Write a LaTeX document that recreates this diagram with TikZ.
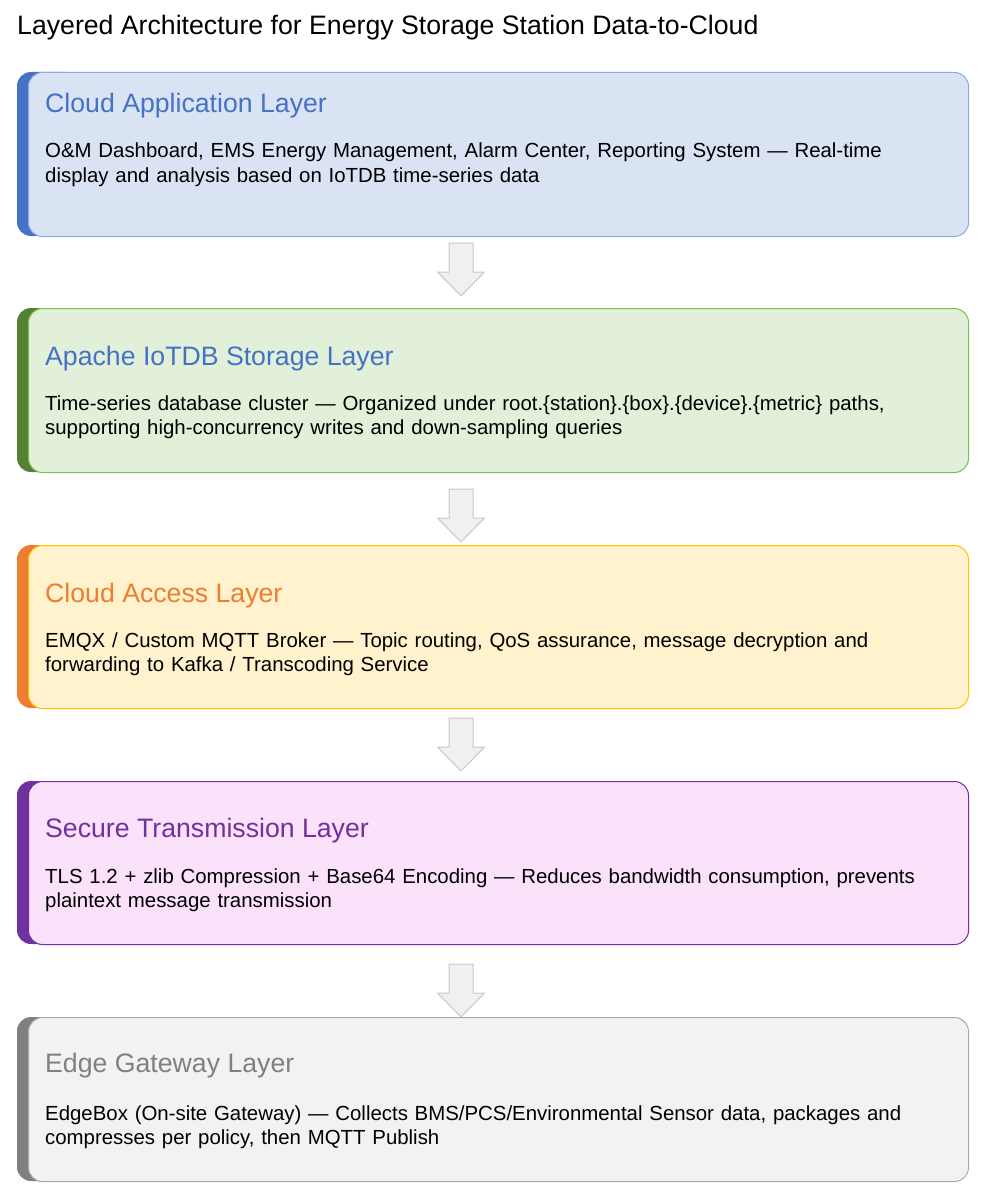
\documentclass[tikz,border=0pt]{standalone}
\usepackage{fontspec}
\setmainfont{Liberation Sans}
\usetikzlibrary{positioning}

\definecolor{appFill}{HTML}{DAE3F3}
\definecolor{appLine}{HTML}{8FAADC}
\definecolor{appMark}{HTML}{4472C4}
\definecolor{dbFill}{HTML}{E2F0D9}
\definecolor{dbLine}{HTML}{7CBF4A}
\definecolor{dbMark}{HTML}{548235}
\definecolor{accFill}{HTML}{FFF2CC}
\definecolor{accLine}{HTML}{FFC000}
\definecolor{accMark}{HTML}{ED7D31}
\definecolor{secFill}{HTML}{FCE1FB}
\definecolor{secLine}{HTML}{7030A0}
\definecolor{secMark}{HTML}{7030A0}
\definecolor{edgeFill}{HTML}{F2F2F2}
\definecolor{edgeLine}{HTML}{AAAAAA}
\definecolor{edgeMark}{HTML}{808080}
\definecolor{flowFill}{HTML}{F0F0F0}
\definecolor{flowLine}{HTML}{C8C8C8}

\tikzset{
  pics/downarrow/.style={code={
    \draw[flow] (-12,0) -- (12,0) -- (12,29) -- (23.5,29) -- (0,53)
      -- (-23.5,29) -- (-12,29) -- cycle;
  }}
}

\begin{document}
\begin{tikzpicture}[x=1pt,y=-1pt,
    layer/.style={draw, line width=1pt, rounded corners=14pt, minimum width=940pt,
      minimum height=164pt, anchor=north west, inner sep=0pt},
    stripe/.style={rounded corners=14pt},
    heading/.style={anchor=base west, inner sep=0pt, font=\fontsize{26.67}{32}\selectfont},
    body/.style={anchor=base west, inner sep=0pt, align=left, text width=915pt,
      font=\fontsize{20.4}{24.5}\selectfont},
    flow/.style={draw=flowLine, fill=flowFill, line width=1pt, line join=miter}]
    \useasboundingbox (0,0) rectangle (987,1193);

    \node[heading] (title) at (17,35) {Layered Architecture for Energy Storage Station Data-to-Cloud};

    % cloud application
    \fill[stripe, appMark] (17,72) rectangle (80,236);
    \node[layer, fill=appFill, draw=appLine] (app) at (28,72) {};
    \node[heading, text=appMark] (appHead) at (45,113) {Cloud Application Layer};
    \node[body] (appText) at (45,158) {O\&M Dashboard, EMS Energy Management, Alarm Center, Reporting System — Real-time\\
      display and analysis based on IoTDB time-series data};

    % iotdb storage
    \fill[stripe, dbMark] (17,308) rectangle (80,472);
    \node[layer, fill=dbFill, draw=dbLine] (db) at (28,308) {};
    \node[heading, text=appMark] (dbHead) at (45,365) {Apache IoTDB Storage Layer};
    \node[body] (dbText) at (45,410) {Time-series database cluster — Organized under root.\{station\}.\{box\}.\{device\}.\{metric\} paths,\\
      supporting high-concurrency writes and down-sampling queries};

    % cloud access
    \fill[stripe, accMark] (17,545) rectangle (80,708);
    \node[layer, fill=accFill, draw=accLine, minimum height=163pt] (acc) at (28,545) {};
    \node[heading, text=accMark] (accHead) at (45,602) {Cloud Access Layer};
    \node[body] (accText) at (45,647) {EMQX / Custom MQTT Broker — Topic routing, QoS assurance, message decryption and\\
      forwarding to Kafka / Transcoding Service};

    % secure transmission
    \fill[stripe, secMark] (17,781) rectangle (80,944);
    \node[layer, fill=secFill, draw=secLine, minimum height=163pt] (sec) at (28,781) {};
    \node[heading, text=secMark] (secHead) at (45,837) {Secure Transmission Layer};
    \node[body] (secText) at (45,883) {TLS 1.2 + zlib Compression + Base64 Encoding — Reduces bandwidth consumption, prevents\\
      plaintext message transmission};

    % edge gateway
    \fill[stripe, edgeMark] (17,1017) rectangle (80,1181);
    \node[layer, fill=edgeFill, draw=edgeLine] (edge) at (28,1017) {};
    \node[heading, text=edgeMark] (edgeHead) at (45,1072) {Edge Gateway Layer};
    \node[body] (edgeText) at (45,1120) {EdgeBox (On-site Gateway) — Collects BMS/PCS/Environmental Sensor data, packages and\\
      compresses per policy, then MQTT Publish};

    % arrows between layers
    \pic at (461,243) {downarrow};
    \pic at (461,489) {downarrow};
    \pic at (461,718) {downarrow};
    \pic at (461,964) {downarrow};
\end{tikzpicture}
\end{document}
